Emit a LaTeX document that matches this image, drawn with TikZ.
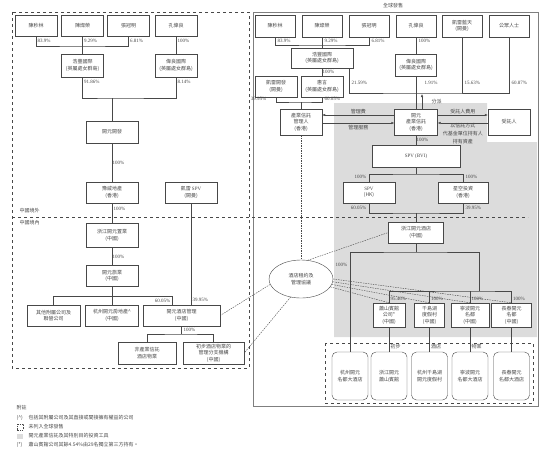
\documentclass[tikz,border=0pt]{standalone}
\usepackage{fontspec}
\setmainfont{Liberation Serif}
\newfontfamily\cjk{Noto Sans CJK TC}
\usetikzlibrary{shapes.geometric,arrows.meta}
\definecolor{linec}{HTML}{484848}
\definecolor{trustgray}{HTML}{DCDCDC}

\begin{document}
\begin{tikzpicture}[x=1pt,y=-1pt,color=linec,
    box/.style={draw=linec, fill=white, inner sep=0pt, align=center,
      minimum width=42pt, minimum height=21pt, font=\cjk\fontsize{5}{6.5}\selectfont},
    hotel/.style={box, rounded corners=5pt, minimum width=36pt, minimum height=48pt},
    pct/.style={inner sep=0.5pt, font=\fontsize{5}{6}\selectfont},
    cnote/.style={inner sep=0.5pt, font=\cjk\fontsize{5}{6}\selectfont},
    flow/.style={-{Latex[length=3pt,width=2.4pt]}},
    agree/.style={dashed, dash pattern=on 1.5pt off 1pt}]
  \useasboundingbox (0,0) rectangle (554,451);

  % shaded part: the trust and its vehicles
  \fill[trustgray] (334,103) -- (487,103) -- (487,142) -- (537,142) -- (537,337) -- (334,337) -- cycle;

  % frames
  \draw[dashed] (12,12) rectangle (249,368);
  \draw[linec!70] (253,12) rectangle (538,406);
  \node[cnote] at (393,5.5) {全球發售};
  \draw[dashed] (325,343) rectangle (533,403);

  % ---------- left: not offered ----------
  \node[box] (lChenSL) at (36,25.5) {陳秒林};
  \node[box] (lChenCR) at (82.5,25.5) {陳燦榮};
  \node[box] (lZhangGM) at (128.5,25.5) {張冠明};
  \node[box] (lKongWL) at (176,25.5) {孔偉良};
  \node[box, minimum height=23pt] (lHaofeng) at (82.5,65.5) {浩豐國際\\(英屬處女群島)};
  \node[box, minimum height=23pt] (lWeiliang) at (176,65.5) {偉良國際\\(英屬處女群島)};
  \node[box, minimum width=52pt, minimum height=22pt] (lKaiyuanDev) at (112,132) {開元開發};
  \node[box, minimum width=52pt] (lYuwei) at (112,192.5) {豫威地產\\(香港)};
  \node[box, minimum width=52pt] (lCarlyleSPV) at (191,192.5) {凱雷 {\rmfamily SPV}\\(開曼)};
  \node[box, minimum width=52pt, minimum height=24pt] (lZjZhiye) at (112,235.5) {浙江開元置業\\(中國)};
  \node[box, minimum width=52pt] (lLvye) at (112,276) {開元旅業\\(中國)};
  \node[box, minimum width=53pt] (lOthers) at (53.5,315.5) {其他附屬公司及\\聯營公司};
  \node[box, minimum width=53pt] (lHzRealty) at (112,315.5) {杭州開元房地產\textasciicircum\\(中國)};
  \node[box, minimum width=77pt] (lHotelMgmt) at (181.5,315.5) {開元酒店管理\\(中國)};
  \node[box, minimum width=58pt, minimum height=22pt] (lNonReit) at (147,353) {非產業信託\\酒店物業};
  \node[box, minimum width=61pt, minimum height=22pt] (lMgmtBranch) at (213.5,353) {初步酒店物業的\\管理分支機構\\(中國)};

  \coordinate (lJoin1) at (82.5,46);
  \draw (lChenSL) |- (lJoin1) -| (lZhangGM);
  \draw (lChenCR) -- (lHaofeng);
  \draw (lKongWL) -- (lWeiliang);
  \node[pct, anchor=west] at (37,41) {83.9\%};
  \node[pct, anchor=west] at (83.5,41) {9.29\%};
  \node[pct, anchor=west] at (129.5,41) {6.81\%};
  \node[pct, anchor=west] at (177,41) {100\%};

  \coordinate (lJoin2) at (112,98);
  \draw (lHaofeng) |- (lJoin2) -| (lWeiliang);
  \draw (lJoin2) -- (lKaiyuanDev);
  \node[pct, anchor=west] at (83.5,82) {91.86\%};
  \node[pct, anchor=west] at (177,82) {8.14\%};

  \draw (lKaiyuanDev) -- node[pct, right] {100\%} (lYuwei);
  \draw (lYuwei) -- (lZjZhiye);
  \node[pct, anchor=west] at (113,209) {100\%};
  \draw (lZjZhiye) -- node[pct, right] {100\%} (lLvye);

  \coordinate (lJoin3) at (172,296);
  \draw (lOthers) |- (lJoin3) -- (lJoin3 |- lHotelMgmt.north);
  \draw (lLvye) -- (lHzRealty);
  \node[pct, anchor=east] at (171,301) {60.05\%};
  \draw (lCarlyleSPV) -- (lCarlyleSPV |- lHotelMgmt.north);
  \node[pct, anchor=west] at (192,300) {39.95\%};

  \coordinate (lJoin4) at (181.5,334);
  \draw (lHotelMgmt) -- (lJoin4);
  \draw (lNonReit) |- (lJoin4) -| (lMgmtBranch);
  \node[pct, anchor=west] at (183,330) {100\%};

  % border of China
  \draw[dashed] (12,217) -- (528,217);
  \node[cnote, anchor=west] at (19,210.5) {中國境外};
  \node[cnote, anchor=west] at (19,223) {中國境內};

  % ---------- right: global offering ----------
  \node[box, minimum width=40pt, minimum height=22pt] (rChenSL) at (275,26) {陳秒林};
  \node[box, minimum width=40pt, minimum height=22pt] (rChenCR) at (322,26) {陳燦榮};
  \node[box, minimum width=40pt, minimum height=22pt] (rZhangGM) at (369,26) {張冠明};
  \node[box, minimum width=40pt, minimum height=22pt] (rKongWL) at (416,26) {孔偉良};
  \node[box, minimum width=40pt, minimum height=22pt] (rCarlyleSky) at (462,26) {凱雷藍天\\(開曼)};
  \node[box, minimum width=40pt, minimum height=22pt] (rPublic) at (509,26) {公眾人士};
  \node[box, minimum width=62pt, minimum height=20pt] (rHaofeng) at (322,58) {浩豐國際\\(英屬處女群島)};
  \node[box, minimum width=41pt, minimum height=22pt] (rWeiliang) at (416,65) {偉良國際\\(英屬處女群島)};
  \node[box] (rCarlyleDev) at (276,86.5) {凱雷開發\\(開曼)};
  \node[box] (rHuiyan) at (322,86.5) {惠言\\(英屬處女群島)};
  \node[box, minimum height=26pt] (rManager) at (301,122) {產業信託\\管理人\\(香港)};
  \node[box, minimum width=43pt, minimum height=26pt] (rReit) at (416,122) {開元\\產業信託\\(香港)};
  \node[box, minimum height=26pt] (rTrustee) at (509,122) {受託人};
  \node[box, minimum width=88pt, minimum height=22pt] (rSpvBVI) at (416,156) {\rmfamily SPV (BVI)};
  \node[box, minimum width=52pt] (rSpvHK) at (369,192.5) {\rmfamily SPV\\(HK)};
  \node[box, minimum width=50pt] (rXingkong) at (463,192.5) {星空投資\\(香港)};
  \node[box, minimum width=55pt] (rZjHotel) at (416,232.5) {浙江開元酒店\\(中國)};
  \node[box, minimum width=32pt, minimum height=24pt] (rXiaoshan) at (389,315) {蕭山賓館\\公司*\\(中國)};
  \node[box, minimum width=30pt, minimum height=24pt] (rQiandao) at (429.5,315) {千島湖\\度假村\\(中國)};
  \node[box, minimum width=38pt, minimum height=24pt] (rNingbo) at (470,315) {寧波開元\\名都\\(中國)};
  \node[box, minimum width=40pt, minimum height=24pt] (rChangchun) at (511.5,315) {長春開元\\名都\\(中國)};
  \node[hotel] (rHotel1) at (350,376) {杭州開元\\名都大酒店};
  \node[hotel] (rHotel2) at (389,376) {浙江開元\\蕭山賓館};
  \node[hotel] (rHotel3) at (429.5,376) {杭州千島湖\\開元度假村};
  \node[hotel] (rHotel4) at (470,376) {寧波開元\\名都大酒店};
  \node[hotel] (rHotel5) at (511.5,376) {長春開元\\名都大酒店};
  \node[box, ellipse, minimum width=64pt, minimum height=38pt] (rLease) at (301,279) {酒店租約及\\管理協議};

  \coordinate (rJoin1) at (322,45);
  \draw (rChenSL) |- (rJoin1) -| (rZhangGM);
  \draw (rChenCR) -- (rHaofeng);
  \draw (rKongWL) -- (rWeiliang);
  \node[pct, anchor=west] at (277,41) {83.9\%};
  \node[pct, anchor=west] at (324,41) {9.29\%};
  \node[pct, anchor=west] at (371,41) {6.81\%};
  \node[pct, anchor=west] at (418,41) {100\%};
  \draw (rHaofeng) -- node[pct, right] {100\%} (rHuiyan);

  \coordinate (rJoin2) at (416,93);
  \draw ([xshift=27pt]rHaofeng.south) |- (rJoin2) -| (rPublic);
  \draw (rCarlyleSky) -- (rCarlyleSky |- rJoin2);
  \draw (rWeiliang) -- (rReit);
  \node[pct, anchor=west] at (351,83) {21.59\%};
  \node[pct, anchor=west] at (424,83) {1.91\%};
  \node[pct, anchor=west] at (464,83) {15.63\%};
  \node[pct, anchor=west] at (511,83) {60.87\%};
  \coordinate (rPayTop) at (422,94);
  \draw[flow] (rPayTop |- rReit.north) -- node[cnote, right=9pt] {分派} (rPayTop);

  \coordinate (rJoin3) at (301,102);
  \draw (rCarlyleDev) |- (rJoin3) -| (rHuiyan);
  \draw (rJoin3) -- (rManager);
  \node[pct, anchor=east] at (267,99) {39.95\%};
  \node[pct, anchor=west] at (324,99) {60.05\%};

  \draw[flow] ([yshift=7pt]rReit.west) -- node[cnote, above] {管理費} ([yshift=7pt]rManager.east);
  \draw[flow] ([yshift=-1pt]rManager.east) -- node[cnote, below=2pt] {管理服務} ([yshift=-1pt]rReit.west);
  \draw[flow] ([yshift=7pt]rReit.east) -- node[cnote, above] {受託人費用} ([yshift=7pt]rTrustee.west);
  \draw[flow] ([yshift=-1pt]rTrustee.west) -- node[cnote, below, align=center, font=\cjk\fontsize{5}{8}\selectfont]
    {以信託方式\\代基金單位持有人\\持有資產} ([yshift=-1pt]rReit.east);

  \draw (rReit) -- node[pct, right] {100\%} (rSpvBVI);
  \coordinate (rJoin4) at (416,174);
  \draw (rSpvBVI) -- (rJoin4);
  \draw (rSpvHK) |- (rJoin4) -| (rXingkong);
  \node[pct, anchor=east] at (367,177) {100\%};
  \node[pct, anchor=west] at (465,177) {100\%};

  \coordinate (rJoin5) at (416,213);
  \draw (rSpvHK) |- (rJoin5) -| (rXingkong);
  \draw (rJoin5) -- (rZjHotel);
  \node[pct, anchor=east] at (367,208) {60.05\%};
  \node[pct, anchor=west] at (465,208) {39.95\%};

  \coordinate (rJoin6) at (416,252);
  \coordinate (rJoin7) at (479,291);
  \draw (rZjHotel) -- (rJoin6);
  \draw (rHotel1) |- (rJoin6) -| (rJoin7);
  \draw (rXiaoshan) |- (rJoin7) -| (rChangchun);
  \draw (rQiandao) -- (rQiandao |- rJoin7);
  \draw (rNingbo) -- (rNingbo |- rJoin7);
  \node[pct, anchor=east] at (348,265) {100\%};
  \node[pct, anchor=west] at (390,299) {95.46\%};
  \node[pct, anchor=west] at (430.5,299) {100\%};
  \node[pct, anchor=west] at (471,299) {100\%};
  \node[pct, anchor=west] at (512.5,299) {100\%};

  \draw (rXiaoshan) -- (rHotel2);
  \draw (rQiandao) -- (rHotel3);
  \draw (rNingbo) -- (rHotel4);
  \draw (rChangchun) -- (rHotel5);
  \node[cnote, anchor=west] at (390,347) {初步};
  \node[cnote, anchor=west] at (430.5,347) {酒店};
  \node[cnote, anchor=west] at (471,347) {物業};

  % lease and management agreements
  \draw[agree] (rManager) -- (rLease);
  \draw[agree] (rLease.70) -- (rZjHotel.west);
  \draw[agree] (rLease.-15) -- (rXiaoshan.north);
  \draw[agree] (rLease.-10) -- (rQiandao.north);
  \draw[agree] (rLease.-5) -- (rNingbo.north);
  \draw[agree] (rLease.0) -- (rChangchun.north);
  \draw[agree] (rLease.190) -- (lHotelMgmt.east);
  \draw[agree] (rLease.240) -- (lMgmtBranch.east);

  % notes
  \node[cnote, anchor=west] at (16,408) {附註};
  \node[cnote, anchor=west] at (16,418) {(\textasciicircum)};
  \node[cnote, anchor=west] at (28,418) {包括其附屬公司及其直接或間接擁有權益的公司};
  \draw[dashed, dash pattern=on 1pt off 0.8pt] (17,424) rectangle (23,430);
  \node[cnote, anchor=west] at (28,427) {未列入全球發售};
  \fill[trustgray] (17,433.5) rectangle (23,438.5);
  \node[cnote, anchor=west] at (28,436) {開元產業信託及其特別目的投資工具};
  \node[cnote, anchor=west] at (16,445) {(*)};
  \node[cnote, anchor=west] at (28,445) {蕭山賓館公司其餘4.54\%由29名獨立第三方持有。};
\end{tikzpicture}
\end{document}
